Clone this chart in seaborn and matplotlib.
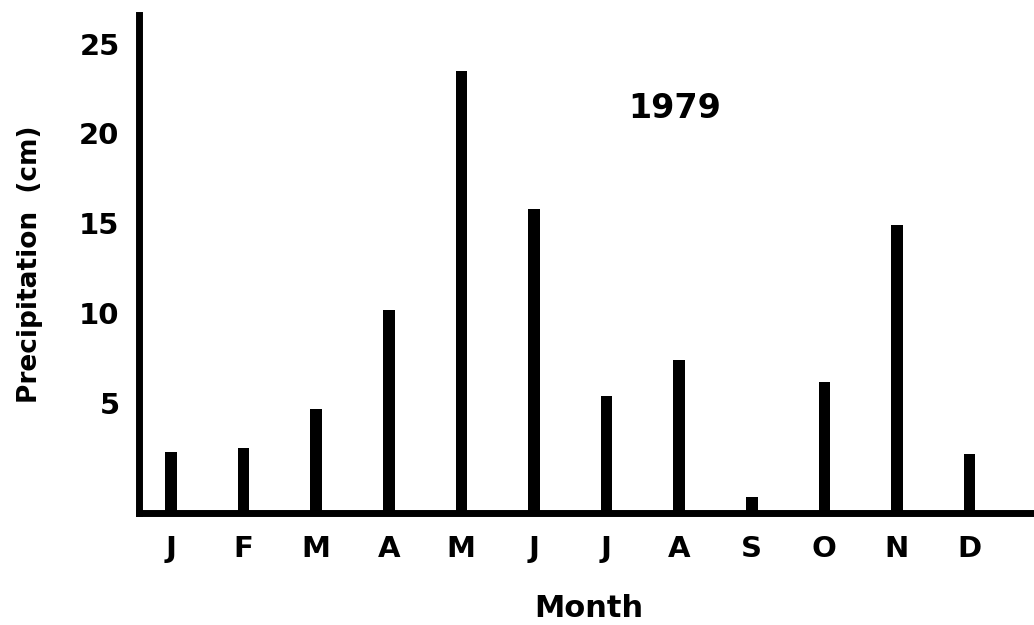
import matplotlib
matplotlib.use("Agg")
import matplotlib.pyplot as plt
from matplotlib.transforms import ScaledTranslation
import seaborn as sns
import pandas as pd

months = ["J", "F", "M", "A", "M", "J", "J", "A", "S", "O", "N", "D"]
precip_cm = [3.4, 3.6, 5.8, 11.3, 24.6, 16.9, 6.5, 8.5, 0.9, 7.3, 16.0, 3.3]
y_ticks = [5, 10, 15, 20, 25]
year_label = "1979"

sns.set_theme(style="white")
plt.rcParams["font.family"] = ["DejaVu Sans"]
plt.rcParams["text.color"] = "black"
plt.rcParams["axes.labelcolor"] = "black"
plt.rcParams["xtick.color"] = "black"
plt.rcParams["ytick.color"] = "black"

df = pd.DataFrame({"pos": list(range(len(months))), "precip": precip_cm})

fig = plt.figure(figsize=(10.34, 6.25), dpi=100)
ax = fig.add_axes([0.1344, 0.1792, 0.8700, 0.7968])

sns.barplot(data=df, x="pos", y="precip", color="black", width=0.16,
            native_scale=True, ax=ax, edgecolor="black", linewidth=0, saturation=1)

ax.set_xlim(-0.44, 11.95)
ax.set_ylim(0, 27.7)

ax.set_xticks(range(len(months)))
ax.set_xticklabels(months, fontsize=21, fontweight="bold")
ax.set_yticks(y_ticks)
ax.set_yticklabels([str(t) for t in y_ticks], fontsize=21, fontweight="bold")
ax.tick_params(axis="x", length=0, pad=16, colors="black")
ax.tick_params(axis="y", length=0, pad=14, colors="black")

# hand-lettered labels sit a little above their grid values in the source
for lab in ax.get_yticklabels():
    lab.set_transform(lab.get_transform() + ScaledTranslation(0, 0.2, fig.dpi_scale_trans))

ax.set_xlabel("Month", fontsize=22, fontweight="bold", labelpad=22, color="black")
ax.set_ylabel("Precipitation  (cm)", fontsize=19, fontweight="bold", labelpad=26, color="black")

for side in ["top", "right"]:
    ax.spines[side].set_visible(False)
for side in ["left", "bottom"]:
    ax.spines[side].set_visible(True)
    ax.spines[side].set_color("black")
    ax.spines[side].set_linewidth(5)
    ax.spines[side].set_capstyle("projecting")

ax.text(0.595, 0.813, year_label, transform=ax.transAxes, fontsize=24,
        fontweight="bold", ha="center", va="center", color="black")

ax.grid(False)
fig.savefig("out.png", dpi=100, facecolor="white")
